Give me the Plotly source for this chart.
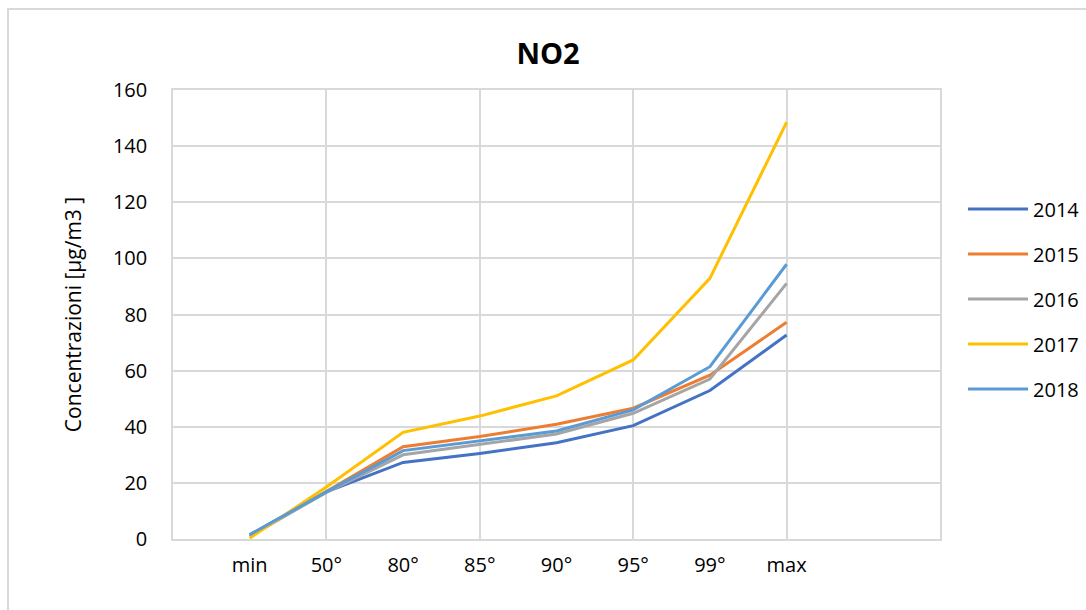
import plotly.graph_objects as go

categories = ["min", "50°", "80°", "85°", "90°", "95°", "99°", "max"]
years = ["2014", "2015", "2016", "2017", "2018"]
v2014 = [1.5, 16.8, 27.3, 30.5, 34.3, 40.4, 52.9, 72.7]
v2015 = [1.0, 17.0, 32.9, 36.5, 40.9, 46.6, 58.4, 77.2]
v2016 = [1.0, 16.6, 30.0, 33.7, 37.4, 44.8, 57.0, 91.1]
v2017 = [0.3, 18.5, 38.0, 43.8, 51.0, 63.8, 92.9, 148.5]
v2018 = [1.5, 16.8, 31.5, 34.9, 38.5, 46.0, 61.4, 97.9]
series = [v2014, v2015, v2016, v2017, v2018]
colors = ["#4472C4", "#ED7D31", "#A5A5A5", "#FFC000", "#5B9BD5"]
y_ticks = [0, 20, 40, 60, 80, 100, 120, 140, 160]

xpos = list(range(1, len(categories) + 1))
n_slots = len(categories) + 2
grid_x = list(range(0, n_slots + 1, 2))

FONT = "Open Sans"
GRID = "#d9d9d9"

fig = go.Figure()
for name, vals, col in zip(years, series, colors):
    fig.add_trace(go.Scatter(
        x=xpos, y=vals, name=name, mode="lines",
        line=dict(color=col, width=3),
        legendgroup=name, xaxis="x", yaxis="y",
    ))

fig.update_layout(
    width=1086, height=610,
    margin=dict(l=173, r=146, t=90, b=71, autoexpand=False),
    paper_bgcolor="white", plot_bgcolor="white",
    font=dict(family=FONT, size=20, color="#404040"),
    title=dict(text="<b>NO2</b>", x=0.489, xref="paper", xanchor="center",
               y=1 - 54 / 610, yanchor="middle",
               font=dict(family=FONT, size=29, color="#000000")),
    xaxis=dict(range=[0, n_slots], tickmode="array", tickvals=grid_x,
               showticklabels=False, showgrid=True, gridcolor=GRID, gridwidth=1.5,
               showline=True, linecolor=GRID, linewidth=1.5, mirror=True,
               zeroline=False, ticks=""),
    xaxis2=dict(range=[0, n_slots], overlaying="x", matches="x", side="bottom",
                anchor="y", tickmode="array", tickvals=xpos, ticktext=categories,
                showgrid=False, zeroline=False, ticks="", showline=False,
                ticklabelstandoff=12,
                tickfont=dict(family=FONT, size=20, color="#000000")),
    yaxis=dict(range=[0, 160], tickmode="array", tickvals=y_ticks,
               showgrid=True, gridcolor=GRID, gridwidth=1.5,
               showline=True, linecolor=GRID, linewidth=1.5, mirror=True,
               zeroline=False, ticks="", ticklabelstandoff=20,
               tickfont=dict(family=FONT, size=20, color="#000000"),
               title=dict(text="Concentrazioni [µg/m3 ]", standoff=26,
                          font=dict(family=FONT, size=21, color="#000000"))),
    legend=dict(x=1.030, xanchor="left", y=0.5345, yanchor="middle",
                font=dict(family=FONT, size=20, color="#000000"),
                itemwidth=60,
                tracegroupgap=16, bgcolor="rgba(0,0,0,0)"),
    shapes=[dict(type="rect", xref="paper", yref="paper",
                 x0=(8 - 173) / 767, x1=(1100 - 173) / 767,
                 y0=(539 - 620) / 449, y1=(539 - 9) / 449,
                 line=dict(color=GRID, width=2), layer="below")],
)

# dummy trace so the label axis is drawn
fig.add_trace(go.Scatter(x=[xpos[0]], y=[None], xaxis="x2", yaxis="y",
                         showlegend=False, hoverinfo="skip"))

fig.write_html("out.html")
